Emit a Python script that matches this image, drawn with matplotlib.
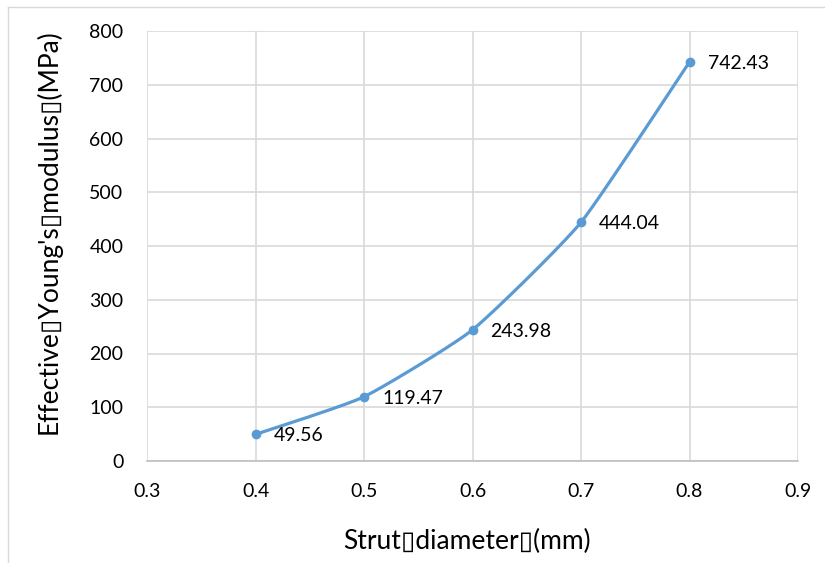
import numpy as np
import matplotlib
matplotlib.use("Agg")
import matplotlib.pyplot as plt
from matplotlib.lines import Line2D

# data
diameters = [0.4, 0.5, 0.6, 0.7, 0.8]
modulus = [49.56, 119.47, 243.98, 444.04, 742.43]
x_ticks = [0.3, 0.4, 0.5, 0.6, 0.7, 0.8, 0.9]
y_ticks = [0, 100, 200, 300, 400, 500, 600, 700, 800]
x_title = "Strut\u25afdiameter\u25af(mm)"
y_title = "Effective\u25afYoung's\u25afmodulus\u25af(MPa)"

FONT = ["Lato", "DejaVu Sans"]
plt.rcParams["font.family"] = FONT
BLUE = "#5B9BD5"
GRID = "#D9D9D9"

fig = plt.figure(figsize=(8.25, 5.63), dpi=100)
ax = fig.add_axes([147 / 825, 102 / 563, 651 / 825, 430 / 563])

# Excel-like smoothed line (Bezier through the points)
x = np.asarray(diameters, float)
y = np.asarray(modulus, float)
px = np.concatenate([[x[0]], x, [x[-1]]])
py = np.concatenate([[y[0]], y, [y[-1]]])
t = np.linspace(0, 1, 60)
k = 12.0
cx, cy = [], []
for i in range(len(x) - 1):
    p0 = np.array([x[i], y[i]])
    p3 = np.array([x[i + 1], y[i + 1]])
    p1 = p0 + (np.array([px[i + 2], py[i + 2]]) - np.array([px[i], py[i]])) / k
    p2 = p3 - (np.array([px[i + 3], py[i + 3]]) - np.array([px[i + 1], py[i + 1]])) / k
    b = ((1 - t) ** 3)[:, None] * p0 + (3 * (1 - t) ** 2 * t)[:, None] * p1 \
        + (3 * (1 - t) * t ** 2)[:, None] * p2 + (t ** 3)[:, None] * p3
    cx.extend(b[:, 0])
    cy.extend(b[:, 1])
ax.plot(cx, cy, color=BLUE, lw=2.3, solid_capstyle="round", zorder=3)
ax.plot(diameters, modulus, "o", color=BLUE, ms=6, zorder=4)

for xv, yv in zip(diameters, modulus):
    ax.annotate(f"{yv:.2f}", (xv, yv), xytext=(13, -1), textcoords="offset points",
                ha="left", va="center", fontsize=14, color="#000000")

ax.set_xlim(0.3, 0.9)
ax.set_ylim(0, 800)
ax.set_xticks(x_ticks)
ax.set_xticklabels([f"{v:.1f}" for v in x_ticks])
ax.set_yticks(y_ticks)
ax.set_yticklabels([str(v) for v in y_ticks])
ax.grid(True, color=GRID, lw=1.2)
ax.set_axisbelow(True)
for s in ["top", "right", "left"]:
    ax.spines[s].set_visible(False)
ax.spines["bottom"].set_color("#BFBFBF")
ax.spines["bottom"].set_linewidth(1.2)
ax.tick_params(axis="both", length=0, labelsize=14, colors="#000000")
ax.tick_params(axis="x", pad=16)
ax.tick_params(axis="y", pad=17)

fig.text(467 / 825, 1 - 541 / 563, x_title, ha="center", va="center", fontsize=19)
fig.text(49 / 825, 1 - 232 / 563, y_title, ha="center", va="center", fontsize=19, rotation=90)

# chart-area border (top and left visible)
fig.add_artist(Line2D([8 / 825, 1], [1 - 7 / 563, 1 - 7 / 563], color="#D9D9D9", lw=1))
fig.add_artist(Line2D([8 / 825, 8 / 825], [0, 1 - 7 / 563], color="#D9D9D9", lw=1))

fig.savefig("out.png", dpi=100)
